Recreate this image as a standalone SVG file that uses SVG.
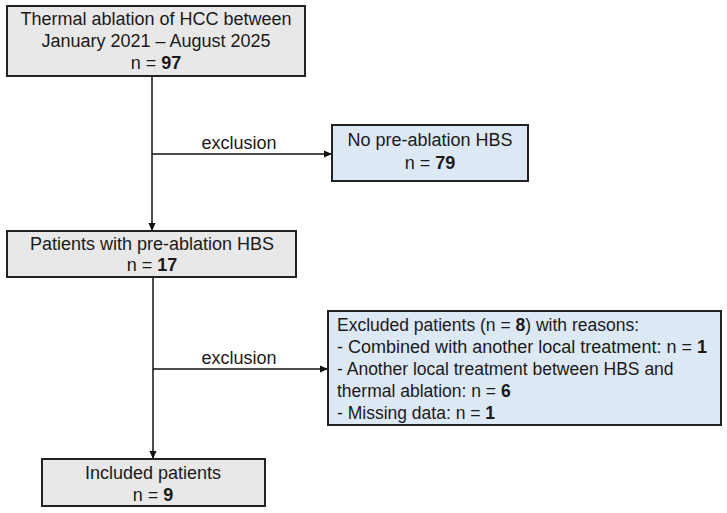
<svg xmlns="http://www.w3.org/2000/svg" width="727" height="513" viewBox="0 0 727 513">
<style>
text{font-family:"Liberation Sans",Arial,sans-serif;font-size:18px;fill:#1a1a1a}
.c{text-anchor:middle}
.b{font-weight:bold}
.s{font-size:17.5px}
.g{fill:#e8e8e8;stroke:#222;stroke-width:2}
.u{fill:#dde8f5;stroke:#222;stroke-width:2}
.ln{stroke:#111;stroke-width:1.5;fill:none}
</style>
<defs>
<marker id="ah" markerWidth="8" markerHeight="8" refX="7" refY="4" orient="auto" markerUnits="userSpaceOnUse">
<path d="M0,0.5 L8,4 L0,7.5 Z" fill="#111"/>
</marker>
</defs>
<rect width="727" height="513" fill="#fff"/>
<g id="connectors">
<path class="ln" d="M152,76 V230" marker-end="url(#ah)"/>
<path class="ln" d="M152,154 H331" marker-end="url(#ah)"/>
<path class="ln" d="M153,277 V458" marker-end="url(#ah)"/>
<path class="ln" d="M153,369 H327" marker-end="url(#ah)"/>
<text class="c" x="239" y="149">exclusion</text>
<text class="c" x="239" y="364">exclusion</text>
</g>
<g id="n1">
<rect class="g" x="7" y="6" width="298" height="70"/>
<text class="c" x="156" y="25">Thermal ablation of HCC between</text>
<text class="c" x="156" y="47">January 2021 – August 2025</text>
<text class="c" x="156" y="69">n = <tspan class="b">97</tspan></text>
</g>
<g id="n2">
<rect class="u" x="332" y="125" width="196" height="56"/>
<text class="c" x="430" y="146">No pre-ablation HBS</text>
<text class="c" x="430" y="169">n = <tspan class="b">79</tspan></text>
</g>
<g id="n3">
<rect class="g" x="7" y="231" width="289" height="46"/>
<text class="c" x="152" y="250">Patients with pre-ablation HBS</text>
<text class="c" x="152" y="271">n = <tspan class="b">17</tspan></text>
</g>
<g id="n4">
<rect class="u" x="328" y="311" width="393" height="114"/>
<text class="s" x="337" y="331">Excluded patients (n = <tspan class="b">8</tspan>) with reasons:</text>
<text class="s" x="337" y="353" textLength="370" lengthAdjust="spacingAndGlyphs">- Combined with another local treatment: n = <tspan class="b">1</tspan></text>
<text class="s" x="337" y="375">- Another local treatment between HBS and</text>
<text class="s" x="337" y="397">thermal ablation: n = <tspan class="b">6</tspan></text>
<text class="s" x="337" y="419">- Missing data: n = <tspan class="b">1</tspan></text>
</g>
<g id="n5">
<rect class="g" x="42" y="459" width="223" height="47"/>
<text class="c" x="153" y="479">Included patients</text>
<text class="c" x="153" y="501">n = <tspan class="b">9</tspan></text>
</g>
</svg>
